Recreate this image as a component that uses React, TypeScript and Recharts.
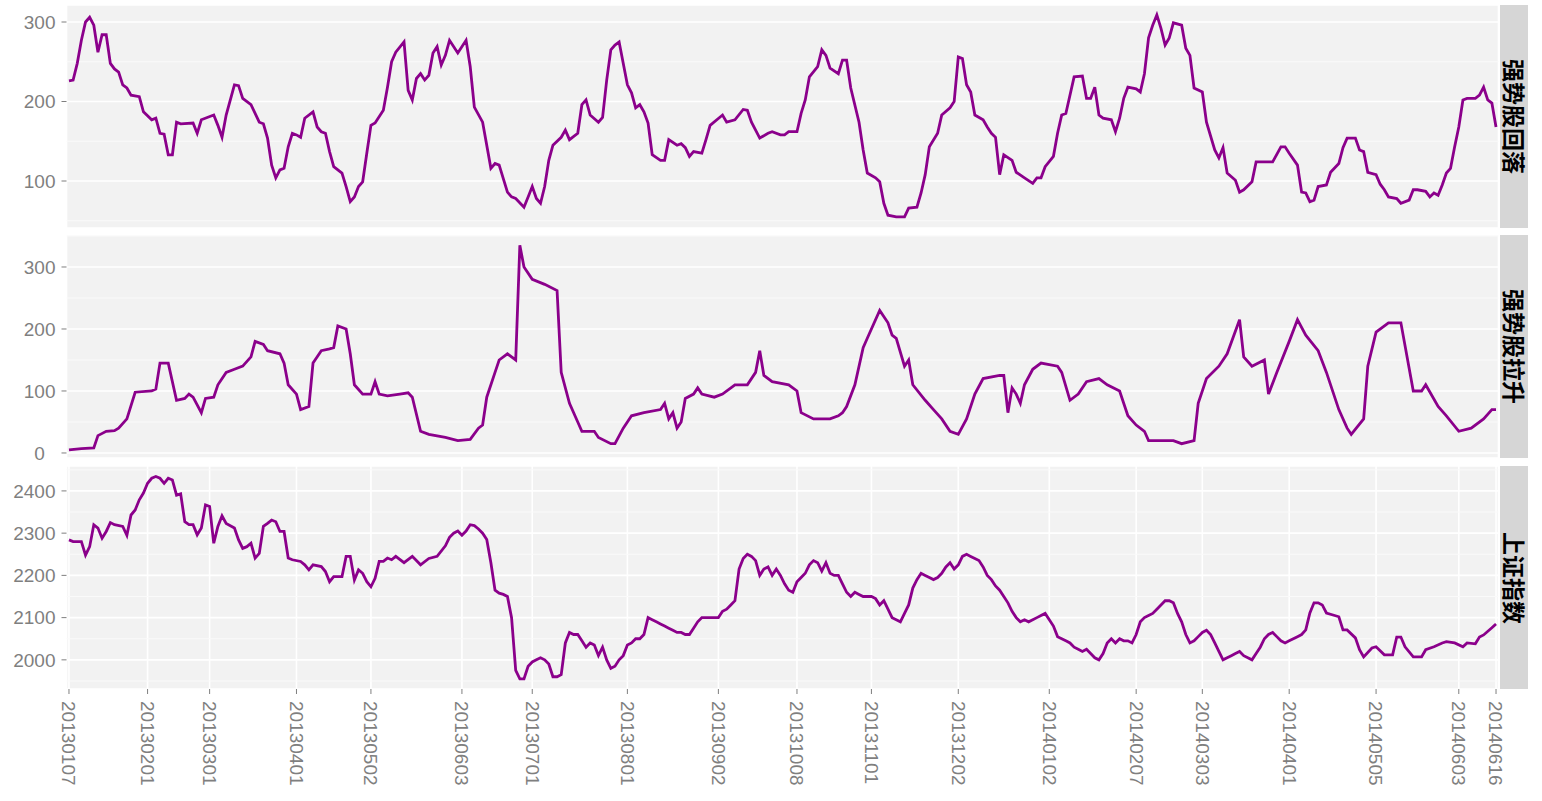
import React from "react";
import { LineChart, Line, XAxis, YAxis, CartesianGrid, ReferenceLine } from "recharts";

// trading-day index of each labelled date (0 = 20130107)
const tickDays = [0, 19, 34, 55, 73, 95, 112, 135, 157, 176, 194, 215, 237, 258, 274, 295, 316, 336, 345];
const tickLabels = [
  "20130107", "20130201", "20130301", "20130401", "20130502", "20130603", "20130701",
  "20130801", "20130902", "20131008", "20131101", "20131202", "20140102", "20140207",
  "20140303", "20140401", "20140505", "20140603", "20140616",
];

const panelTitles = ["强势股回落", "强势股拉升", "上证指数"];

// [trading day index, value]
const strongFall: [number, number][] = [
  [0,226],[1,227],[2,248],[3,277],[4,300],[5,306],[6,296],[7,262],[8,284],[9,284],[10,248],[11,241],[12,237],[13,221],[14,217],[15,208],[17,206],[18,187],[20,177],[21,179],[22,160],[23,159],[24,133],[25,133],[26,174],[27,172],[30,173],[31,160],[32,177],[35,183],[36,170],[37,155],[38,183],[40,221],[41,220],[42,204],[44,196],[46,174],[47,172],[48,154],[49,120],[50,104],[51,114],[52,116],[53,143],[54,160],[55,158],[56,155],[57,179],[59,187],[60,168],[61,162],[62,160],[63,137],[64,118],[66,110],[67,93],[68,74],[69,80],[70,93],[71,99],[72,135],[73,170],[74,173],[76,189],[77,218],[78,250],[79,262],[81,275],[82,214],[83,202],[84,229],[85,235],[86,227],[87,233],[88,261],[89,269],[90,246],[91,258],[92,277],[94,261],[96,277],[97,244],[98,193],[100,174],[102,116],[103,122],[104,120],[106,86],[107,80],[108,78],[110,67],[111,80],[112,93],[113,78],[114,72],[115,93],[116,126],[117,145],[119,155],[120,164],[121,152],[123,160],[124,196],[125,202],[126,183],[128,174],[129,180],[130,227],[131,265],[132,271],[133,275],[135,221],[136,211],[137,192],[138,196],[139,187],[140,173],[141,133],[143,126],[144,126],[145,152],[147,145],[148,147],[149,142],[150,131],[151,137],[153,135],[154,152],[155,170],[158,183],[159,174],[161,177],[163,190],[164,189],[165,174],[167,154],[169,160],[170,162],[172,158],[173,158],[174,162],[176,162],[177,185],[178,202],[179,231],[181,244],[182,265],[183,258],[184,242],[186,235],[187,252],[188,252],[189,217],[191,174],[192,139],[193,110],[195,104],[196,99],[197,72],[198,57],[200,55],[202,55],[203,66],[205,67],[206,85],[207,108],[208,143],[210,160],[211,183],[213,192],[214,200],[215,256],[216,254],[217,221],[218,212],[219,183],[221,177],[222,168],[223,160],[224,155],[225,108],[226,133],[228,126],[229,111],[231,104],[233,97],[234,104],[235,104],[236,118],[238,131],[239,160],[240,183],[241,185],[243,231],[245,232],[246,204],[247,204],[248,218],[249,183],[250,179],[252,177],[253,162],[254,179],[255,204],[256,218],[258,216],[259,212],[260,235],[261,280],[262,296],[263,309],[264,292],[265,271],[266,280],[267,299],[269,296],[270,267],[271,258],[272,217],[274,212],[275,174],[277,139],[278,129],[279,142],[280,110],[282,101],[283,86],[284,89],[286,99],[287,124],[289,124],[291,124],[293,143],[294,143],[295,135],[297,120],[298,86],[299,85],[300,74],[301,76],[302,93],[304,95],[305,111],[307,122],[308,142],[309,154],[311,154],[312,139],[313,137],[314,111],[316,108],[317,96],[318,89],[319,80],[321,78],[322,72],[324,76],[325,89],[326,89],[328,87],[329,80],[330,85],[331,82],[332,95],[333,110],[334,116],[335,143],[336,168],[337,202],[338,204],[340,204],[341,208],[342,218],[343,202],[344,198],[345,168],
];

const strongRise: [number, number][] = [
  [0,5],[3,7],[6,8],[7,28],[9,35],[11,36],[12,40],[14,55],[16,98],[20,100],[21,103],[22,145],[24,145],[26,85],[28,88],[29,95],[30,90],[32,65],[33,88],[35,90],[36,110],[38,130],[40,135],[42,140],[44,155],[45,180],[47,175],[48,165],[51,160],[52,145],[53,110],[55,95],[56,70],[58,75],[59,145],[61,165],[63,168],[64,170],[65,205],[67,200],[68,160],[69,110],[71,95],[73,95],[74,115],[75,95],[77,92],[80,95],[82,97],[83,90],[85,35],[87,30],[91,25],[94,20],[97,22],[99,40],[100,45],[101,90],[103,130],[104,150],[106,160],[108,150],[109,335],[110,300],[112,280],[115,272],[118,262],[119,130],[121,80],[123,50],[124,35],[127,35],[128,25],[131,15],[132,15],[134,40],[136,60],[139,65],[143,70],[144,80],[145,55],[146,65],[147,40],[148,50],[149,88],[151,95],[152,105],[153,95],[156,90],[158,95],[161,110],[164,110],[166,130],[167,165],[168,125],[170,115],[174,110],[176,100],[177,65],[180,55],[184,55],[186,60],[187,65],[188,75],[190,110],[192,170],[193,185],[196,230],[198,210],[199,190],[200,185],[202,140],[203,150],[204,110],[207,85],[209,70],[211,55],[213,35],[215,30],[217,55],[219,95],[221,120],[225,125],[226,125],[227,65],[228,105],[229,95],[230,80],[231,110],[233,135],[235,145],[239,140],[240,130],[242,85],[244,95],[246,115],[249,120],[251,110],[254,100],[256,60],[258,45],[260,35],[261,20],[264,20],[267,20],[269,15],[272,20],[273,80],[275,120],[278,140],[280,160],[283,215],[284,155],[286,140],[289,150],[290,95],[292,130],[295,180],[297,215],[299,190],[302,165],[304,130],[307,70],[309,40],[310,30],[313,55],[314,140],[316,195],[319,210],[322,210],[325,100],[327,100],[328,110],[331,75],[333,60],[336,35],[339,40],[342,55],[344,70],[345,70],
];

const shIndex: [number, number][] = [
  [0,2284],[1,2280],[3,2280],[4,2248],[5,2268],[6,2320],[7,2312],[8,2288],[9,2304],[10,2325],[11,2320],[13,2316],[14,2295],[15,2343],[16,2355],[17,2379],[18,2395],[19,2418],[20,2430],[21,2434],[22,2430],[23,2418],[24,2430],[25,2426],[26,2390],[27,2393],[28,2327],[29,2320],[30,2320],[31,2296],[32,2312],[33,2367],[34,2363],[35,2276],[36,2316],[37,2341],[38,2323],[40,2312],[41,2284],[42,2264],[43,2268],[44,2276],[45,2241],[46,2252],[47,2316],[48,2323],[49,2331],[50,2327],[51,2304],[52,2304],[53,2241],[54,2237],[56,2233],[57,2225],[58,2213],[59,2225],[61,2221],[62,2209],[63,2185],[64,2197],[66,2197],[67,2245],[68,2245],[69,2189],[70,2213],[71,2205],[72,2185],[73,2173],[74,2193],[75,2233],[76,2233],[77,2241],[78,2237],[79,2245],[81,2230],[83,2245],[85,2225],[87,2240],[89,2245],[91,2270],[92,2290],[93,2300],[94,2305],[95,2295],[96,2305],[97,2320],[98,2318],[99,2310],[100,2300],[101,2285],[102,2230],[103,2165],[104,2158],[105,2155],[106,2150],[107,2100],[108,1975],[109,1955],[110,1955],[111,1985],[112,1995],[113,2000],[114,2005],[115,2000],[116,1990],[117,1960],[118,1960],[119,1965],[120,2040],[121,2065],[122,2060],[123,2060],[124,2045],[125,2030],[126,2040],[127,2035],[128,2010],[129,2030],[130,2000],[131,1980],[132,1985],[133,2000],[134,2010],[135,2035],[136,2040],[137,2050],[138,2050],[139,2060],[140,2100],[141,2095],[142,2090],[143,2085],[144,2080],[145,2075],[146,2070],[147,2065],[148,2065],[149,2060],[150,2060],[151,2075],[152,2090],[153,2100],[155,2100],[157,2100],[158,2115],[159,2120],[160,2130],[161,2140],[162,2215],[163,2240],[164,2250],[165,2245],[166,2235],[167,2200],[168,2215],[169,2220],[170,2200],[171,2215],[172,2200],[173,2180],[174,2165],[175,2160],[176,2185],[177,2195],[178,2205],[179,2225],[180,2235],[181,2230],[182,2210],[183,2230],[184,2205],[185,2200],[186,2200],[187,2180],[188,2160],[189,2150],[190,2160],[191,2155],[192,2150],[193,2150],[194,2150],[195,2145],[196,2130],[197,2140],[198,2120],[199,2100],[200,2095],[201,2090],[202,2110],[203,2130],[204,2170],[205,2190],[206,2205],[207,2200],[208,2195],[209,2190],[210,2195],[211,2205],[212,2220],[213,2230],[214,2215],[215,2225],[216,2245],[217,2250],[218,2245],[219,2240],[220,2235],[221,2220],[222,2200],[223,2190],[224,2175],[225,2165],[226,2150],[227,2135],[228,2115],[229,2100],[230,2090],[231,2095],[232,2090],[233,2095],[234,2100],[235,2105],[236,2110],[237,2095],[238,2080],[239,2055],[240,2050],[241,2045],[242,2040],[243,2030],[244,2025],[245,2020],[246,2025],[247,2015],[248,2005],[249,2000],[250,2015],[251,2040],[252,2050],[253,2040],[254,2050],[255,2045],[256,2045],[257,2040],[258,2060],[259,2090],[260,2100],[261,2105],[262,2110],[263,2120],[264,2130],[265,2140],[266,2140],[267,2135],[268,2110],[269,2090],[270,2060],[271,2040],[272,2045],[273,2055],[274,2065],[275,2070],[276,2060],[277,2040],[278,2020],[279,2000],[280,2005],[281,2010],[282,2015],[283,2020],[284,2010],[285,2005],[286,2000],[287,2015],[288,2030],[289,2050],[290,2060],[291,2065],[292,2055],[293,2045],[294,2040],[295,2045],[296,2050],[297,2055],[298,2060],[299,2071],[300,2111],[301,2135],[302,2135],[303,2130],[304,2111],[306,2105],[307,2102],[308,2071],[309,2071],[311,2052],[312,2024],[313,2007],[315,2028],[316,2031],[318,2012],[320,2012],[321,2054],[322,2054],[323,2031],[325,2007],[327,2007],[328,2024],[330,2031],[332,2040],[333,2043],[335,2040],[337,2031],[338,2040],[340,2038],[341,2054],[342,2059],[344,2076],[345,2085],
];

const topTicks = [100, 200, 300];
const topMinor = [50, 150, 250];
const midTicks = [0, 100, 200, 300];
const midMinor = [50, 150, 250, 350];
const botTicks = [2000, 2100, 2200, 2300, 2400];
const botMinor = [1950, 2050, 2150, 2250, 2350, 2450];

const PLOT_LEFT = 66.5;
const PLOT_RIGHT = 1498.5;
const CHART_W = 1542;
const PANEL_H = 223;
const PAD = 12;
const GREY = "#7F7F7F";
const FONT = "'Liberation Sans', Arial, sans-serif";
const TICK_FONT = 19;

const DateTick = (props: any) => {
  const { x, y, payload } = props;
  const i = tickDays.indexOf(payload.value);
  return (
    <g transform={`translate(${x},${y})`}>
      <text transform="rotate(90)" textAnchor="start" dy="0.35em" fill={GREY} fontSize={TICK_FONT} fontFamily={FONT}>
        {tickLabels[i]}
      </text>
    </g>
  );
};

// y labels are centred within a column as wide as the panel's widest label
const makeValueTick = (maxChars: number) => (props: any) => {
  const { x, y, payload } = props;
  const half = (maxChars * 0.556 * TICK_FONT) / 2;
  return (
    <text
      x={x - half + 1}
      y={y}
      dy="0.355em"
      textAnchor="middle"
      fill={GREY}
      fontSize={TICK_FONT}
      fontFamily={FONT}
    >
      {payload.value}
    </text>
  );
};

type PanelProps = {
  top: number;
  series: [number, number][];
  domain: [number, number];
  ticks: number[];
  minor: number[];
  title: string;
  showX: boolean;
};

function Panel({ top, series, domain, ticks, minor, title, showX }: PanelProps) {
  const data = series.map(([d, v]) => ({ d, v }));
  const xH = showX ? 100 : 0;
  const bottomPad = showX ? 0 : PAD;
  const h = PANEL_H + xH + PAD + bottomPad;
  const maxChars = Math.max(...ticks.map((t) => String(t).length));
  const ValueTick = makeValueTick(maxChars);
  return (
    <>
      <div style={{ position: "absolute", left: 0, top: top - PAD, width: CHART_W, height: h }}>
        <LineChart
          width={CHART_W}
          height={h}
          data={data}
          margin={{ top: PAD, right: CHART_W - PLOT_RIGHT, bottom: bottomPad, left: 0 }}
        >
          <CartesianGrid fill="#F2F2F2" stroke="#FFFFFF" strokeWidth={1.6} />
          {minor.map((m) => (
            <ReferenceLine key={m} y={m} stroke="#FAFAFA" strokeWidth={1} />
          ))}
          <XAxis
            dataKey="d"
            type="number"
            domain={[-0.6, 345.6]}
            allowDataOverflow
            ticks={tickDays}
            interval={0}
            height={xH}
            axisLine={false}
            tickLine={showX ? { stroke: GREY } : false}
            tickSize={5}
            tickMargin={7}
            tick={showX ? <DateTick /> : false}
          />
          <YAxis
            type="number"
            domain={domain}
            allowDataOverflow
            ticks={ticks}
            interval={0}
            width={PLOT_LEFT}
            axisLine={false}
            tickLine={{ stroke: GREY }}
            tickSize={5}
            tickMargin={7}
            tick={<ValueTick />}
          />
          <Line
            type="linear"
            dataKey="v"
            stroke="#8B008B"
            strokeWidth={2.8}
            dot={false}
            activeDot={false}
            isAnimationActive={false}
          />
        </LineChart>
      </div>
      <div
        style={{
          position: "absolute",
          left: PLOT_RIGHT + 1.5,
          top,
          width: 28,
          height: PANEL_H,
          background: "#D6D6D6",
          display: "flex",
          alignItems: "center",
          justifyContent: "center",
        }}
      >
        <span
          style={{
            writingMode: "vertical-rl",
            textOrientation: "sideways",
            fontFamily: "'Noto Sans CJK SC', sans-serif",
            fontWeight: 700,
            fontSize: 23,
            lineHeight: 1,
            color: "#000",
            whiteSpace: "nowrap",
          }}
        >
          {title}
        </span>
      </div>
    </>
  );
}

export default function App() {
  return (
    <div style={{ position: "absolute", left: 0, top: 0, width: 1542, height: 801, background: "#FFFFFF" }}>
      <Panel top={5} series={strongFall} domain={[40.9, 321.4]} ticks={topTicks} minor={topMinor} title={panelTitles[0]} showX={false} />
      <Panel top={235} series={strongRise} domain={[-8.1, 351.6]} ticks={midTicks} minor={midMinor} title={panelTitles[1]} showX={false} />
      <Panel top={466} series={shIndex} domain={[1931, 2459]} ticks={botTicks} minor={botMinor} title={panelTitles[2]} showX={true} />
    </div>
  );
}
